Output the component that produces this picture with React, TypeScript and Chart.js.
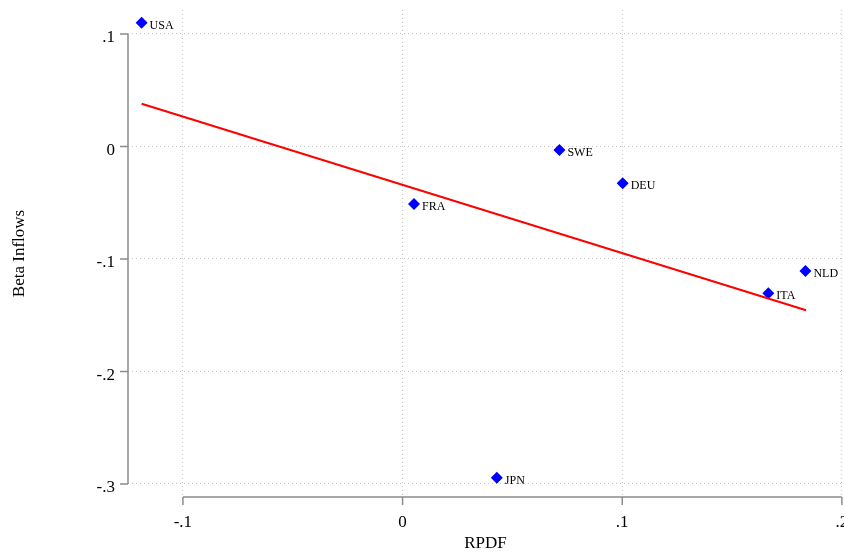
import React, { useEffect, useRef } from "react";
import { Chart, registerables } from "chart.js";

Chart.register(...registerables);

const countries = ["USA", "SWE", "DEU", "FRA", "NLD", "ITA", "JPN"];
const rpdf = [-0.1188, 0.0714, 0.1002, 0.0052, 0.1834, 0.1665, 0.0429];
const betaInflows = [0.110, -0.0031, -0.0327, -0.0511, -0.1107, -0.1305, -0.2944];

const fitX = [-0.1188, 0.1837];
const fitY = [0.038, -0.1456];

const xTickValues = [-0.1, 0, 0.1, 0.2];
const xTickLabels = ["-.1", "0", ".1", ".2"];
const yTickValues = [0.1, 0, -0.1, -0.2, -0.3];
const yTickLabels = [".1", "0", "-.1", "-.2", "-.3"];

const FONT = "'Liberation Serif', 'Times New Roman', serif";
const AXIS_COLOR = "#8c8c8c";
const GRID_COLOR = "#c4c4c4";

const axesPlugin = {
  id: "stataAxes",
  afterDraw(chart: any) {
    const ctx = chart.ctx;
    const xs = chart.scales.x;
    const ys = chart.scales.y;
    const area = chart.chartArea;
    ctx.save();
    ctx.strokeStyle = AXIS_COLOR;
    ctx.lineWidth = 1.5;
    // y axis
    const yTop = ys.getPixelForValue(Math.max(...yTickValues));
    const yBot = ys.getPixelForValue(Math.min(...yTickValues));
    const ax = area.left;
    ctx.beginPath();
    ctx.moveTo(ax, yTop);
    ctx.lineTo(ax, yBot);
    yTickValues.forEach((v) => {
      const p = ys.getPixelForValue(v);
      ctx.moveTo(ax - 8, p);
      ctx.lineTo(ax, p);
    });
    ctx.stroke();
    // x axis
    const xL = xs.getPixelForValue(Math.min(...xTickValues));
    const xR = xs.getPixelForValue(Math.max(...xTickValues));
    const ay = area.bottom;
    ctx.beginPath();
    ctx.moveTo(xL, ay);
    ctx.lineTo(xR, ay);
    xTickValues.forEach((v) => {
      const p = xs.getPixelForValue(v);
      ctx.moveTo(p, ay);
      ctx.lineTo(p, ay + 8);
    });
    ctx.stroke();
    // point labels
    const meta = chart.getDatasetMeta(1);
    ctx.fillStyle = "#000";
    ctx.font = `12px ${FONT}`;
    ctx.textAlign = "left";
    ctx.textBaseline = "middle";
    meta.data.forEach((el: any, i: number) => {
      ctx.fillText(countries[i], el.x + 8, el.y + 3);
    });
    ctx.restore();
  },
};

export default function App() {
  const ref = useRef<HTMLCanvasElement | null>(null);
  useEffect(() => {
    if (!ref.current) return;
    const chart = new Chart(ref.current, {
      type: "scatter",
      data: {
        datasets: [
          {
            label: "Fitted values",
            data: fitX.map((x, i) => ({ x, y: fitY[i] })),
            showLine: true,
            borderColor: "#ff0000",
            borderWidth: 2,
            pointRadius: 0,
            fill: false,
          },
          {
            label: "Beta Inflows",
            data: rpdf.map((x, i) => ({ x, y: betaInflows[i] })),
            pointStyle: "rectRot",
            pointRadius: 6,
            pointBackgroundColor: "#0000ff",
            pointBorderColor: "#0000ff",
            pointBorderWidth: 0,
          },
        ],
      },
      options: {
        responsive: false,
        animation: false,
        layout: { padding: { top: 10, right: 27, bottom: 0, left: 0 } },
        plugins: { legend: { display: false }, tooltip: { enabled: false } },
        scales: {
          x: {
            type: "linear",
            min: -0.125,
            max: 0.2005,
            afterBuildTicks: (s: any) => {
              s.ticks = xTickValues.map((v) => ({ value: v }));
            },
            afterFit: (s: any) => {
              s.height = 57;
              s.paddingLeft = 0;
              s.paddingRight = 0;
              s.paddingTop = 0;
              s.paddingBottom = 0;
            },
            ticks: {
              color: "#000",
              font: { family: FONT, size: 17 },
              padding: 15,
              maxRotation: 0,
              autoSkip: false,
              callback: (v: any) => {
                const i = xTickValues.findIndex((t) => Math.abs(t - v) < 1e-9);
                return i >= 0 ? xTickLabels[i] : "";
              },
            },
            grid: { color: GRID_COLOR, lineWidth: 1, drawTicks: false },
            border: { display: false, dash: [1, 3] },
            title: {
              display: true,
              text: "RPDF",
              color: "#000",
              font: { family: FONT, size: 17 },
              padding: { top: 0, bottom: 0 },
            },
          },
          y: {
            type: "linear",
            min: -0.3116,
            max: 0.1213,
            afterBuildTicks: (s: any) => {
              s.ticks = yTickValues.map((v) => ({ value: v }));
            },
            afterFit: (s: any) => {
              s.width = 128;
              s.paddingLeft = 0;
              s.paddingRight = 0;
              s.paddingTop = 0;
              s.paddingBottom = 0;
            },
            ticks: {
              color: "#000",
              font: { family: FONT, size: 17 },
              padding: 13,
              labelOffset: 4,
              autoSkip: false,
              callback: (v: any) => {
                const i = yTickValues.findIndex((t) => Math.abs(t - v) < 1e-9);
                return i >= 0 ? yTickLabels[i] : "";
              },
            },
            grid: { color: GRID_COLOR, lineWidth: 1, drawTicks: false },
            border: { display: false, dash: [1, 3] },
            title: {
              display: true,
              text: "Beta Inflows",
              color: "#000",
              font: { family: FONT, size: 17 },
              padding: { top: 9, bottom: 0 },
            },
          },
        },
      },
      plugins: [axesPlugin],
    });
    return () => chart.destroy();
  }, []);
  return (
    <div
      style={{
        position: "fixed",
        left: 0,
        top: 0,
        width: 844,
        height: 554,
        overflow: "hidden",
        background: "#fff",
      }}
    >
      <canvas ref={ref} width={870} height={554} style={{ display: "block" }} />
    </div>
  );
}
